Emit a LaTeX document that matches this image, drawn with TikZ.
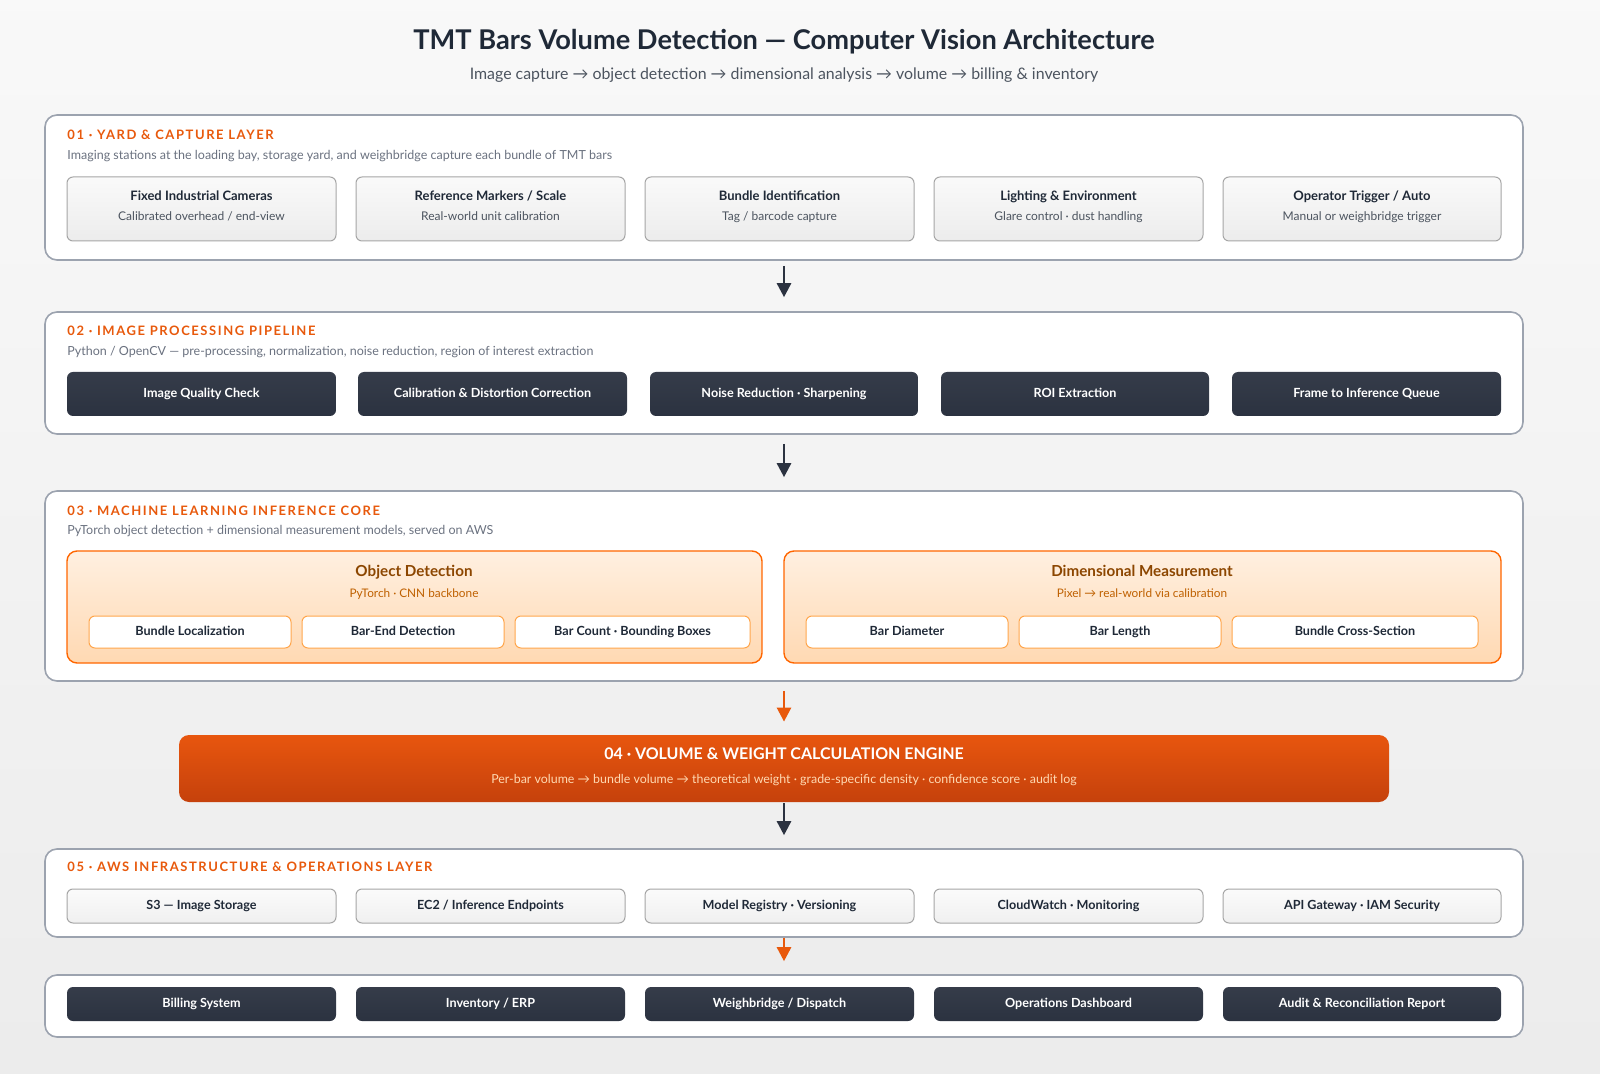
\documentclass[tikz,border=0pt]{standalone}
\usepackage{fontspec}
\setmainfont{Lato}
\newfontfamily\hdrfont[LetterSpace=12]{Lato}
\usetikzlibrary{arrows.meta}
\definecolor{ink}{HTML}{1F2937}
\definecolor{sub}{HTML}{6B7280}
\definecolor{org}{HTML}{E8590C}
\definecolor{dark}{HTML}{2B3240}
\definecolor{bord}{HTML}{9CA3AF}
\definecolor{engT}{HTML}{E8560E}
\definecolor{engB}{HTML}{C5410C}
\newcommand{\fs}[1]{\fontsize{#1}{#1}\selectfont}
\tikzset{
 panel/.style={draw=bord,line width=0.8pt,fill=white,rounded corners=6pt,inner sep=0pt},
 card/.style={draw=gray!70,line width=0.5pt,top color=gray!4,bottom color=gray!15,rounded corners=3pt,inner sep=0pt},
 onel/.style={text height=4.6pt,text depth=1.4pt},
 darkc/.style={onel,draw=none,top color=dark!95,bottom color=dark!100!black,rounded corners=3pt,inner sep=0pt,text=white,font=\fs{6.3}\bfseries},
 opan/.style={draw=orange!80!red,line width=0.7pt,top color=orange!12,bottom color=orange!30,rounded corners=5pt,inner sep=0pt},
 chip/.style={onel,draw=orange!70,line width=0.5pt,fill=white,rounded corners=3pt,inner sep=0pt,text=ink,font=\fs{6.3}\bfseries},
 lchip/.style={onel,draw=gray!70,line width=0.5pt,top color=gray!3,bottom color=gray!12,rounded corners=3pt,inner sep=0pt,text=ink,font=\fs{6.3}\bfseries},
 hdr/.style={anchor=west,text=org,font=\hdrfont\fs{6.5}\bfseries,inner sep=0pt},
 desc/.style={anchor=west,text=sub,font=\fs{6.25},inner sep=0pt},
 ctitle/.style={onel,inner sep=0pt,text=ink,font=\fs{6.5}\bfseries},
 csub/.style={onel,inner sep=0pt,text=ink!80,font=\fs{6}},
 arr/.style={-{Triangle[length=7pt,width=7pt]},line width=1.3pt,draw=dark},
 oarr/.style={-{Triangle[length=7pt,width=7pt]},line width=1.3pt,draw=org},
}
% \bx[style]{name}{x1}{y1}{x2}{y2}{text}
\newcommand{\bx}[7][card]{\node[#1,minimum width={(#5-#3)*0.5pt},minimum height={(#6-#4)*0.5pt}] (#2) at ({(#3+#5)/2},{(#4+#6)/2}) {#7};}
% two-line card
\newcommand{\cd}[7]{\bx{#1}{#2}{#3}{#4}{#5}{}
 \node[ctitle] (#1t) at ({(#2+#4)/2},{#3+20}) {#6};
 \node[csub] (#1s) at ({(#2+#4)/2},{#3+40}) {#7};}
\begin{document}
\begin{tikzpicture}[x=0.5pt,y=-0.5pt]
\useasboundingbox (0,0) rectangle (1600,1074);
\shade[top color=gray!5,bottom color=gray!15] (0,0) rectangle (1600,1074);
\node[text=ink,font=\fs{13.6}\bfseries] (title) at (784,42) {TMT Bars Volume Detection — Computer Vision Architecture};
\node[text=ink!80,font=\fs{7.95}] (subt) at (784,75) {Image capture → object detection → dimensional analysis → volume → billing \& inventory};
% Panel 1
\bx[panel]{p1}{45}{115}{1523}{260}{}
\node[hdr] (h1) at (67,135) {01 · YARD \& CAPTURE LAYER};
\node[desc] (d1) at (67,156) {Imaging stations at the loading bay, storage yard, and weighbridge capture each bundle of TMT bars};
\cd{c11}{67}{177}{336}{241}{Fixed Industrial Cameras}{Calibrated overhead / end-view}
\cd{c12}{356}{177}{625}{241}{Reference Markers / Scale}{Real-world unit calibration}
\cd{c13}{645}{177}{914}{241}{Bundle Identification}{Tag / barcode capture}
\cd{c14}{934}{177}{1203}{241}{Lighting \& Environment}{Glare control · dust handling}
\cd{c15}{1223}{177}{1501}{241}{Operator Trigger / Auto}{Manual or weighbridge trigger}
% Panel 2
\bx[panel]{p2}{45}{312}{1523}{434}{}
\node[hdr] (h2) at (67,331) {02 · IMAGE PROCESSING PIPELINE};
\node[desc] (d2) at (67,352) {Python / OpenCV — pre-processing, normalization, noise reduction, region of interest extraction};
\bx[darkc]{c21}{67}{372}{336}{416}{Image Quality Check}
\bx[darkc]{c22}{358}{372}{627}{416}{Calibration \& Distortion Correction}
\bx[darkc]{c23}{650}{372}{918}{416}{Noise Reduction · Sharpening}
\bx[darkc]{c24}{941}{372}{1209}{416}{ROI Extraction}
\bx[darkc]{c25}{1232}{372}{1501}{416}{Frame to Inference Queue}
% Panel 3
\bx[panel]{p3}{45}{491}{1523}{681}{}
\node[hdr] (h3) at (67,511) {03 · MACHINE LEARNING INFERENCE CORE};
\node[desc] (d3) at (67,531) {PyTorch object detection + dimensional measurement models, served on AWS};
\bx[opan]{o1}{67}{551}{762}{663}{}
\bx[opan]{o2}{784}{551}{1501}{663}{}
\node[onel,text=orange!55!black,font=\fs{7.6}\bfseries] (o1t) at (414,573) {Object Detection};
\node[onel,text=orange!75!black,font=\fs{5.9}] (o1s) at (414,594) {PyTorch · CNN backbone};
\node[onel,text=orange!55!black,font=\fs{7.6}\bfseries] (o2t) at (1142,573) {Dimensional Measurement};
\node[onel,text=orange!75!black,font=\fs{5.9}] (o2s) at (1142,594) {Pixel → real-world via calibration};
\bx[chip]{k1}{89}{616}{291}{648}{Bundle Localization}
\bx[chip]{k2}{302}{616}{504}{648}{Bar-End Detection}
\bx[chip]{k3}{515}{616}{750}{648}{Bar Count · Bounding Boxes}
\bx[chip]{k4}{806}{616}{1008}{648}{Bar Diameter}
\bx[chip]{k5}{1019}{616}{1221}{648}{Bar Length}
\bx[chip]{k6}{1232}{616}{1478}{648}{Bundle Cross-Section}
% Engine
\node[draw=none,top color=engT,bottom color=engB,rounded corners=5pt,minimum width=605pt,minimum height=33.5pt,inner sep=0pt] (eng) at (784,768.5) {};
\node[onel,text=white,font=\fs{8}\bfseries] (engt) at (784,756) {04 · VOLUME \& WEIGHT CALCULATION ENGINE};
\node[onel,text=orange!30,font=\fs{6.2}] (engs) at (784,780) {Per-bar volume → bundle volume → theoretical weight · grade-specific density · confidence score · audit log};
% Panel 5
\bx[panel]{p5}{45}{849}{1523}{937}{}
\node[hdr] (h5) at (67,867) {05 · AWS INFRASTRUCTURE \& OPERATIONS LAYER};
\bx[lchip]{c51}{67}{889}{336}{923}{S3 — Image Storage}
\bx[lchip]{c52}{356}{889}{625}{923}{EC2 / Inference Endpoints}
\bx[lchip]{c53}{645}{889}{914}{923}{Model Registry · Versioning}
\bx[lchip]{c54}{934}{889}{1203}{923}{CloudWatch · Monitoring}
\bx[lchip]{c55}{1223}{889}{1501}{923}{API Gateway · IAM Security}
% Panel 6
\bx[panel]{p6}{45}{975}{1523}{1037}{}
\bx[darkc]{c61}{67}{987}{336}{1021}{Billing System}
\bx[darkc]{c62}{356}{987}{625}{1021}{Inventory / ERP}
\bx[darkc]{c63}{645}{987}{914}{1021}{Weighbridge / Dispatch}
\bx[darkc]{c64}{934}{987}{1203}{1021}{Operations Dashboard}
\bx[darkc]{c65}{1223}{987}{1501}{1021}{Audit \& Reconciliation Report}
% Arrows
\draw[arr,shorten <=2.5pt,shorten >=7pt] (p1.south) -- (p2.north);
\draw[arr,shorten <=4.5pt,shorten >=6.5pt] (p2.south) -- (p3.north);
\draw[oarr,shorten <=4.5pt,shorten >=6.5pt] (p3.south) -- (eng.north);
\draw[arr,shorten <=0.5pt,shorten >=6.5pt] (eng.south) -- (p5.north);
\draw[oarr,shorten <=0pt,shorten >=6.5pt] (p5.south) -- (p6.north);
\end{tikzpicture}
\end{document}
